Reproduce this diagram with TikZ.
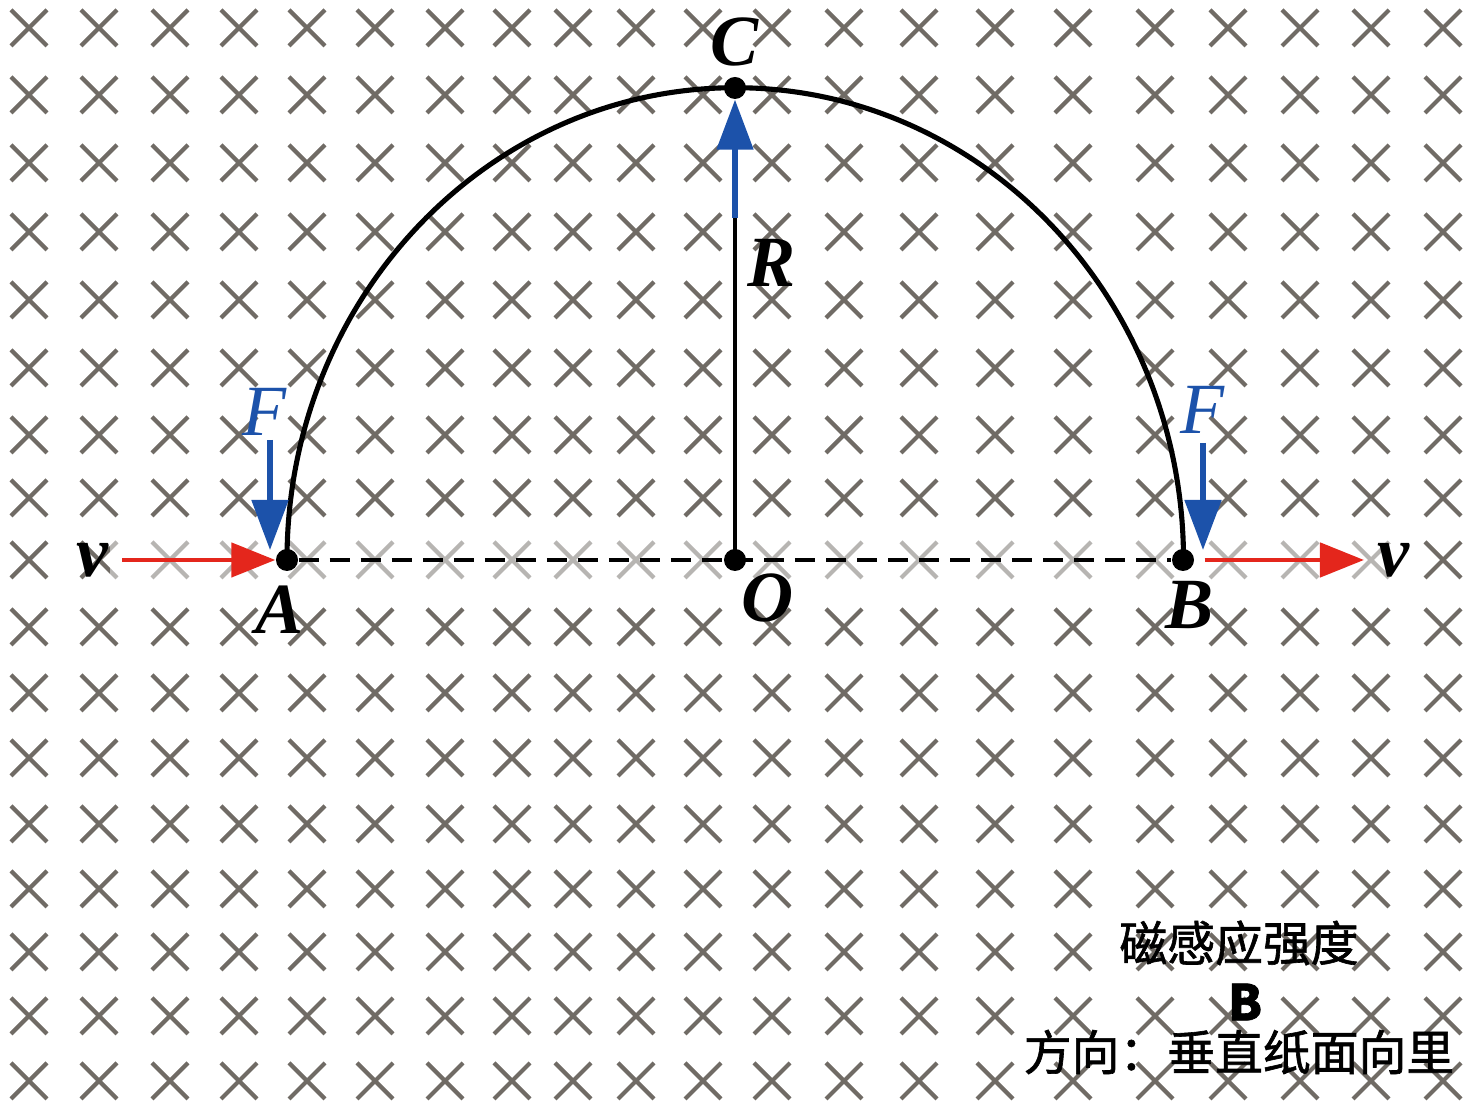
\documentclass[tikz,border=0pt]{standalone}
\usepackage{fontspec}
\setmainfont{Liberation Serif}
\newfontfamily\cjkfont[FakeBold=1.3]{Noto Sans CJK SC}
\usetikzlibrary{calc,positioning,arrows.meta}

\definecolor{fieldgray}{RGB}{112,107,101}
\definecolor{forceblue}{RGB}{28,82,170}
\definecolor{velred}{RGB}{228,38,28}

\begin{document}
\begin{tikzpicture}[x=0.01cm,y=0.01cm,
    cross/.style={draw=fieldgray,line width=1.2pt},
    dot/.style={circle,fill=black,inner sep=0pt,minimum size=0.22cm},
    track/.style={line width=1.45pt,black},
    velocity/.style={velred,line width=1.35pt,-{Triangle[length=0.44cm,width=0.34cm]}},
    force/.style={forceblue,line width=1.45pt,-{Triangle[length=0.5cm,width=0.36cm]}},
    letter/.style={font=\fontsize{20.5}{24}\selectfont\bfseries\itshape,inner sep=0pt},
    note/.style={font=\cjkfont\fontsize{13.6}{16}\selectfont,inner sep=0pt}
    ]

  \useasboundingbox (0,0) rectangle (1472,1104);

  % field into the page
  \foreach \x in {29,99,170,239,307,375,445,512,573,636,703,772,844,919,995,1073,1155,1228,1300,1371,1443}
    \foreach \y in {23,88,152,215,280,346,411,477,544,606,669,736,804,872,941,1009,1076}
      \draw[cross] (\x-18,\y-18) -- (\x+18,\y+18) (\x-18,\y+18) -- (\x+18,\y-18);
  \fill[white,opacity=0.5] (110,522) rectangle (1390,568);

  \node(A) [dot] at (287,544) {};
  \node(O) [dot] at (735,544) {};
  \node(B) [dot] at (1183,544) {};
  \node(C) [dot] at (735,1016) {};

  % half circle and radius
  \draw[track] (A.center) arc[start angle=180,end angle=0,x radius=4.48cm,y radius=4.72cm];
  \draw[black,line width=0.95pt,dash pattern=on 0.2cm off 0.11cm] (A) -- (B);
  \coordinate(Rmid) at (735,886);
  \draw[track,line width=1.25pt] (O.center) -- (Rmid);
  \draw[force] (Rmid) -- (C);

  \coordinate(vA) at (122,544);
  \coordinate(vB) at (1364,544);
  \draw[velocity] (vA) -- (A);
  \draw[velocity,shorten <=0.1cm] (B) -- (vB);

  \coordinate(FAtail) at (270,664);
  \coordinate(FAtip) at (270,554);
  \coordinate(FBtail) at (1203,661);
  \coordinate(FBtip) at (1203,554);
  \draw[force] (FAtail) -- (FAtip);
  \draw[force] (FBtail) -- (FBtip);

  \node(labC) [letter] at (735,1062) {C};
  \node(labR) [letter] at (772,841) {R};
  \node(labA) [letter] at (280,494) {A};
  \node(labB) [letter] at (1190,499) {B};
  \node(labO) [letter] at (768,506) {O};
  \node(labvA) [letter] at (92,544) {v};
  \node(labvB) [letter] at (1393,544) {v};
  \node(labFA) [letter,forceblue,font=\fontsize{20.5}{24}\selectfont\itshape] at (265,692) {F};
  \node(labFB) [letter,forceblue,font=\fontsize{20.5}{24}\selectfont\itshape] at (1203,694) {F};

  \node(field) [note] at (1239,161) {磁感应强度};
  \node(fieldB) [note,font=\cjkfont\fontsize{14}{16}\selectfont\bfseries] at (1245,102) {B};
  \node(fielddir) [note] at (1239,52) {方向：垂直纸面向里};

\end{tikzpicture}
\end{document}
